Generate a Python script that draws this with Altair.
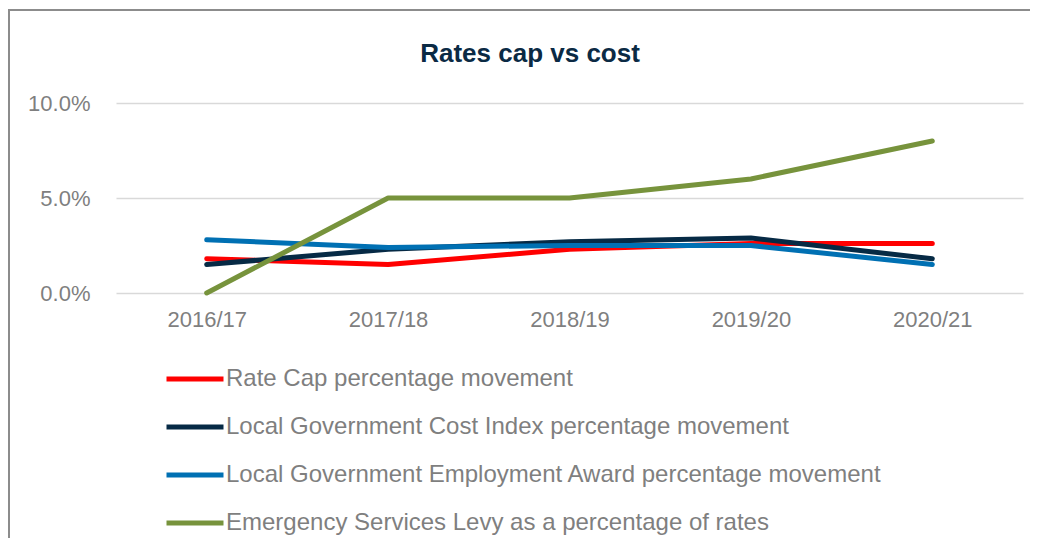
import altair as alt
import pandas as pd

years = ["2016/17", "2017/18", "2018/19", "2019/20", "2020/21"]
series_names = [
    "Rate Cap percentage movement",
    "Local Government Cost Index percentage movement",
    "Local Government Employment Award percentage movement",
    "Emergency Services Levy as a percentage of rates",
]
rate_cap = [1.8, 1.5, 2.3, 2.6, 2.6]
lgci = [1.5, 2.3, 2.7, 2.9, 1.8]
lgea = [2.8, 2.4, 2.5, 2.5, 1.5]
esl = [0.0, 5.0, 5.0, 6.0, 8.0]
colors = ["#FF0000", "#062A45", "#0070B3", "#77933C"]
title_text = "Rates cap vs cost"

rows = []
for name, vals in zip(series_names, [rate_cap, lgci, lgea, esl]):
    for i, (y, v) in enumerate(zip(years, vals)):
        rows.append({"year": y, "series": name, "value": v / 100.0, "order": series_names.index(name)})
df = pd.DataFrame(rows)

W, H = 907, 190
FONT = "Liberation Sans"
GRAY = "#7F7F7F"

lines = alt.Chart(df).mark_line(strokeWidth=5, strokeCap="round", strokeJoin="round").encode(
    x=alt.X("year:N", sort=years, scale=alt.Scale(type="point", padding=0.5),
            axis=alt.Axis(title=None, labelAngle=0, domain=False, ticks=False, grid=False,
                          labelFont=FONT, labelFontSize=22, labelColor=GRAY, labelPadding=16)),
    y=alt.Y("value:Q", scale=alt.Scale(domain=[0, 0.10], nice=False),
            axis=alt.Axis(title=None, values=[0, 0.05, 0.10], format=".1%", domain=False, ticks=False,
                          grid=True, gridColor="#D9D9D9", gridWidth=1.5,
                          labelFont=FONT, labelFontSize=22, labelColor=GRAY, labelPadding=26)),
    color=alt.Color("series:N", sort=series_names,
                    scale=alt.Scale(domain=series_names, range=colors),
                    legend=alt.Legend(title=None, orient="none", legendX=48, legendY=245,
                                      direction="vertical", symbolType="stroke", symbolSize=3249,
                                      symbolStrokeWidth=5, labelFont=FONT, labelFontSize=24,
                                      labelColor=GRAY, labelOffset=0, rowPadding=5, labelLimit=900)),
    detail="order:O",
)

one = pd.DataFrame({"t": [title_text]})
title = alt.Chart(one).mark_text(font=FONT, fontSize=26, fontWeight="bold", color="#0B2A44",
                                 align="center", baseline="alphabetic").encode(
    text="t:N", x=alt.value(414), y=alt.value(-41))

border = alt.Chart(one).mark_rect(stroke="#8C8C8C", strokeWidth=2, fillOpacity=0).encode(
    x=alt.value(-107), x2=alt.value(W + 300), y=alt.value(-93), y2=alt.value(H + 400))

chart = alt.layer(border, lines, title).properties(
    width=W, height=H,
    autosize=alt.AutoSizeParams(type="none"),
    padding={"left": 108, "top": 95, "right": 7, "bottom": 245},
).configure_view(stroke=None, strokeWidth=0)

chart.save("out.html", embed_options={"renderer": "svg", "actions": False})
